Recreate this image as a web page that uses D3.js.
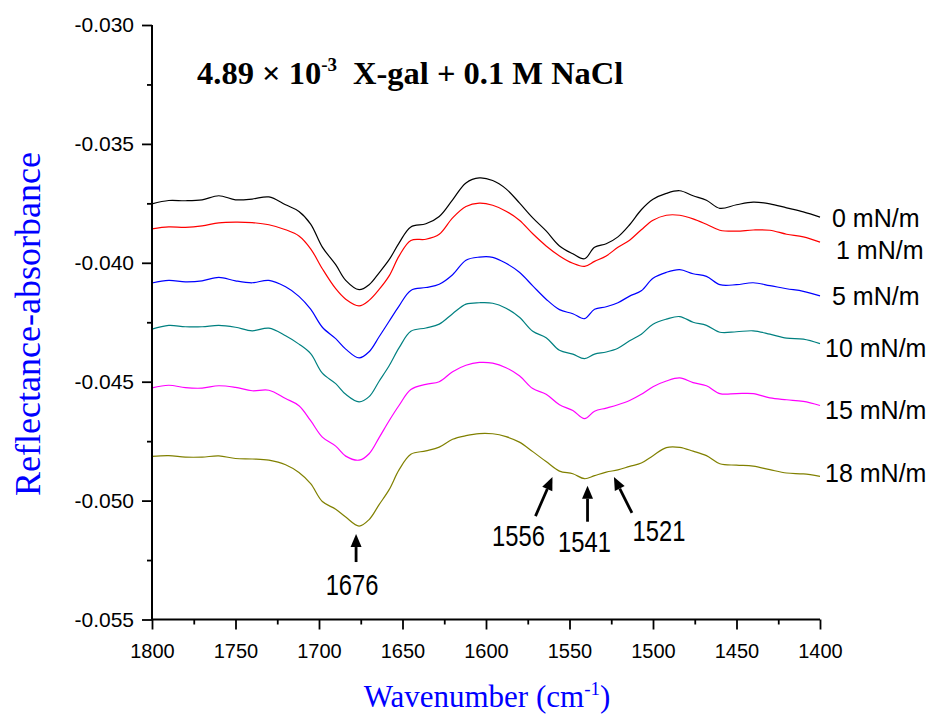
<!DOCTYPE html>
<html>
<head>
<meta charset="utf-8">
<script src="https://cdn.jsdelivr.net/npm/d3@7"></script>
<style>
  html, body { margin: 0; padding: 0; background: #fff; }
  svg { display: block; }
</style>
</head>
<body>
<svg id="chart" width="932" height="717"></svg>
<script>
// Wavenumber grid (cm^-1) shared by all spectra
const wavenumbers = [1800,1790,1780,1770,1760,1750,1740,1730,1720,1712,1705,1698,1690,1684,1676,1670,1664,1658,1652,1645,
  1636,1628,1620,1612,1604,1596,1588,1580,1572,1564,1556,1548,1541,1535,1528,1521,1514,1507,1500,
  1492,1484,1476,1468,1460,1450,1440,1430,1420,1410,1400];

// Reflectance-absorbance at each surface pressure
const absorb0 = [-0.03752,-0.03738,-0.03739,-0.03735,-0.03718,-0.03735,-0.03732,-0.03723,-0.03756,
  -0.03784,-0.03837,-0.03934,-0.04008,-0.04074,-0.04113,-0.04092,-0.04042,-0.03987,-0.03916,-0.03849,
  -0.03836,-0.03805,-0.03735,-0.03664,-0.03643,-0.03654,-0.03689,-0.03748,-0.03811,-0.03866,-0.03929,-0.03962,
  -0.03983,-0.03935,-0.03920,-0.03891,-0.03840,-0.03777,-0.03733,
  -0.03708,-0.03697,-0.03718,-0.03737,-0.03771,
  -0.03756,-0.03745,-0.03752,-0.03769,-0.03786,-0.03808];
const absorb1 = [-0.03857,-0.03849,-0.03851,-0.03845,-0.03832,-0.03829,-0.03831,-0.03840,-0.03861,
  -0.03887,-0.03941,-0.04025,-0.04109,-0.04153,-0.04181,-0.04158,-0.04112,-0.04055,-0.03971,-0.03906,
  -0.03901,-0.03880,-0.03811,-0.03763,-0.03749,-0.03758,-0.03783,-0.03821,-0.03878,-0.03929,-0.03971,-0.04002,
  -0.04015,-0.03994,-0.03971,-0.03935,-0.03905,-0.03861,-0.03821,
  -0.03800,-0.03800,-0.03815,-0.03838,-0.03863,
  -0.03867,-0.03862,-0.03863,-0.03880,-0.03891,-0.03913];
const absorb5 = [-0.04085,-0.04074,-0.04080,-0.04076,-0.04061,-0.04076,-0.04084,-0.04074,-0.04101,
  -0.04141,-0.04195,-0.04271,-0.04319,-0.04363,-0.04400,-0.04374,-0.04311,-0.04246,-0.04181,-0.04116,
  -0.04104,-0.04090,-0.04050,-0.03989,-0.03976,-0.03977,-0.04002,-0.04040,-0.04097,-0.04153,-0.04197,-0.04214,
  -0.04235,-0.04195,-0.04185,-0.04168,-0.04140,-0.04118,-0.04065,
  -0.04040,-0.04029,-0.04046,-0.04057,-0.04092,
  -0.04092,-0.04084,-0.04096,-0.04109,-0.04120,-0.04139];
const absorb10 = [-0.04279,-0.04263,-0.04269,-0.04269,-0.04263,-0.04271,-0.04286,-0.04275,-0.04307,
  -0.04342,-0.04382,-0.04464,-0.04508,-0.04553,-0.04585,-0.04563,-0.04498,-0.04433,-0.04357,-0.04288,
  -0.04274,-0.04258,-0.04214,-0.04174,-0.04168,-0.04170,-0.04191,-0.04229,-0.04288,-0.04315,-0.04368,-0.04384,
  -0.04403,-0.04384,-0.04375,-0.04359,-0.04328,-0.04300,-0.04258,
  -0.04237,-0.04226,-0.04250,-0.04263,-0.04292,
  -0.04290,-0.04286,-0.04300,-0.04317,-0.04321,-0.04340];
const absorb15 = [-0.04526,-0.04515,-0.04525,-0.04527,-0.04517,-0.04524,-0.04538,-0.04536,-0.04571,
  -0.04601,-0.04664,-0.04733,-0.04771,-0.04813,-0.04830,-0.04803,-0.04735,-0.04664,-0.04599,-0.04533,
  -0.04511,-0.04500,-0.04458,-0.04431,-0.04419,-0.04422,-0.04441,-0.04475,-0.04529,-0.04553,-0.04597,-0.04621,
  -0.04655,-0.04624,-0.04611,-0.04597,-0.04579,-0.04553,-0.04521,
  -0.04497,-0.04484,-0.04504,-0.04517,-0.04550,
  -0.04550,-0.04550,-0.04568,-0.04576,-0.04583,-0.04600];
const absorb18 = [-0.04814,-0.04811,-0.04817,-0.04817,-0.04812,-0.04823,-0.04825,-0.04830,-0.04849,
  -0.04882,-0.04929,-0.05004,-0.05036,-0.05069,-0.05107,-0.05080,-0.05017,-0.04954,-0.04870,-0.04805,
  -0.04791,-0.04775,-0.04742,-0.04727,-0.04718,-0.04719,-0.04731,-0.04754,-0.04794,-0.04836,-0.04876,-0.04887,
  -0.04908,-0.04895,-0.04880,-0.04871,-0.04856,-0.04842,-0.04811,
  -0.04777,-0.04776,-0.04792,-0.04811,-0.04845,
  -0.04851,-0.04855,-0.04870,-0.04884,-0.04888,-0.04898];

const pressureLabels = ["0 mN/m", "1 mN/m", "5 mN/m", "10 mN/m", "15 mN/m", "18 mN/m"];

// Axis ticks
const xTicks = [1800,1750,1700,1650,1600,1550,1500,1450,1400];
const xMinorTicks = [1775,1725,1675,1625,1575,1525,1475,1425];
const yTicks = [-0.030,-0.035,-0.040,-0.045,-0.050,-0.055];
const yMinorTicks = [-0.0325,-0.0375,-0.0425,-0.0475,-0.0525];

// Peak assignments marked on the 18 mN/m spectrum
const peakMarks = [1676, 1556, 1541, 1521];

// ---- drawing ----
const svg = d3.select("#chart");
const x = d3.scaleLinear().domain([1800, 1400]).range([152, 820]);
const y = d3.scaleLinear().domain([-0.055, -0.030]).range([619.5, 25]);

const seriesData = [absorb0, absorb1, absorb5, absorb10, absorb15, absorb18];
const colors = ["#000000", "#ff0000", "#0000ff", "#008080", "#ff00ff", "#808000"];

const line = d3.line()
  .x((d, i) => x(wavenumbers[i]))
  .y(d => y(d))
  .curve(d3.curveCatmullRom.alpha(0.5));

svg.append("g").selectAll("path")
  .data(seriesData)
  .join("path")
  .attr("d", d => line(d))
  .attr("fill", "none")
  .attr("stroke", (d, i) => colors[i])
  .attr("stroke-width", 1.2);

// Axes
const axisFont = "'Liberation Sans', Arial, sans-serif";

const yAxis = svg.append("g")
  .attr("transform", "translate(152,0)")
  .call(d3.axisLeft(y).tickValues(yTicks).tickSize(10).tickPadding(8)
    .tickFormat(d => d.toFixed(3)));
svg.append("g")
  .attr("transform", "translate(152,0)")
  .call(d3.axisLeft(y).tickValues(yMinorTicks).tickSize(5).tickFormat(""))
  .select(".domain").remove();

const xAxis = svg.append("g")
  .attr("transform", "translate(0,619.5)")
  .call(d3.axisBottom(x).tickValues(xTicks).tickSize(10).tickPadding(14)
    .tickFormat(d3.format("d")));
svg.append("g")
  .attr("transform", "translate(0,619.5)")
  .call(d3.axisBottom(x).tickValues(xMinorTicks).tickSize(5).tickFormat(""))
  .select(".domain").remove();

svg.selectAll(".domain").attr("stroke", "#000").attr("stroke-width", 2);
svg.selectAll(".tick line").attr("stroke", "#000").attr("stroke-width", 1.8);
svg.selectAll(".tick text")
  .attr("font-family", axisFont)
  .attr("font-size", 20)
  .attr("fill", "#000");
yAxis.selectAll(".tick text").attr("font-size", 21);
// plain axis lines without end caps
yAxis.select(".domain").attr("d", `M0,${y(-0.030)}V${y(-0.055)}`);
xAxis.select(".domain").attr("d", `M${x(1800)},0H${x(1400)}`);

// Axis titles
const serif = "'Liberation Serif', 'Times New Roman', serif";
const xTitle = svg.append("text")
  .attr("x", 487).attr("y", 707)
  .attr("text-anchor", "middle")
  .attr("font-family", serif)
  .attr("font-size", 31)
  .attr("fill", "#0000ff");
xTitle.append("tspan").text("Wavenumber (cm");
xTitle.append("tspan").attr("font-size", 19).attr("dy", -12).text("-1");
xTitle.append("tspan").attr("dy", 12).text(")");

svg.append("text")
  .attr("transform", "translate(40,324) rotate(-90)")
  .attr("text-anchor", "middle")
  .attr("font-family", serif)
  .attr("font-size", 36)
  .attr("fill", "#0000ff")
  .text("Reflectance-absorbance");

// Chart title
const title = svg.append("text")
  .attr("x", 197).attr("y", 84)
  .attr("font-family", serif)
  .attr("font-weight", "bold")
  .attr("font-size", 32.5)
  .attr("fill", "#000");
title.append("tspan").text("4.89 \u00d7 10");
title.append("tspan").attr("font-size", 19).attr("dy", -13).text("-3");
title.append("tspan").attr("dy", 13).attr("dx", 16).text("X-gal + 0.1 M NaCl");

// Surface-pressure labels at the right end of each spectrum
const labelX = [832, 836, 832, 825, 825, 825];
const labelNudge = [10, 17, 9, 13, 14, 6];
svg.append("g").selectAll("text")
  .data(pressureLabels)
  .join("text")
  .attr("x", (d, i) => labelX[i])
  .attr("y", (d, i) => y(seriesData[i][seriesData[i].length - 1]) + labelNudge[i])
  .attr("font-family", axisFont)
  .attr("font-size", 25)
  .attr("fill", "#000")
  .text(d => d);

// Peak arrows on the 18 mN/m spectrum
const valueAt = wn => absorb18[wavenumbers.indexOf(wn)];
// tip offset from the curve, tail offset from the tip, label offset from the tip
const arrowGeom = {
  1676: {tip: [-3, 8], tail: [0, 28], label: [-4, 61]},
  1556: {tip: [-7, 6], tail: [-17, 39], label: [-34, 69]},
  1541: {tip: [3, 7], tail: [0, 36], label: [-3, 66]},
  1521: {tip: [-4, 7], tail: [18, 36], label: [45, 64]}
};
const arrows = svg.append("g");
peakMarks.forEach(wn => {
  const g = arrowGeom[wn];
  const tx = x(wn) + g.tip[0], ty = y(valueAt(wn)) + g.tip[1];
  const sx = tx + g.tail[0], sy = ty + g.tail[1];
  const ang = Math.atan2(ty - sy, tx - sx);
  const hl = 13, hw = 5.5;
  const bx = tx - hl * Math.cos(ang), by = ty - hl * Math.sin(ang);
  const px = -Math.sin(ang), py = Math.cos(ang);
  arrows.append("line")
    .attr("x1", sx).attr("y1", sy).attr("x2", bx).attr("y2", by)
    .attr("stroke", "#000").attr("stroke-width", 2.8);
  arrows.append("path")
    .attr("d", `M${tx},${ty}L${bx + hw * px},${by + hw * py}L${bx - hw * px},${by - hw * py}Z`)
    .attr("fill", "#000");
  const lx = tx + g.label[0], ly = ty + g.label[1];
  arrows.append("text")
    .attr("transform", `translate(${lx},${ly}) scale(0.82,1)`)
    .attr("text-anchor", "middle")
    .attr("font-family", axisFont)
    .attr("font-size", 29)
    .attr("fill", "#000")
    .text(wn);
});
</script>
</body>
</html>
